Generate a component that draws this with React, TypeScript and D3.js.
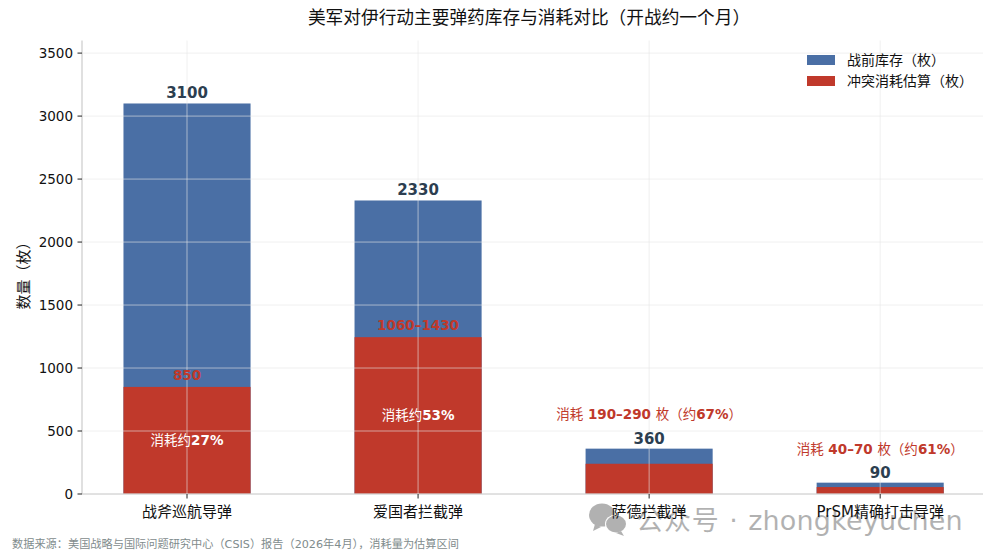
import * as d3 from 'd3';

const categories = ['战斧巡航导弹', '爱国者拦截弹', '萨德拦截弹', 'PrSM精确打击导弹'];
const stock = [3100, 2330, 360, 90];
const consumed = [850, 1245, 240, 55];
const rangeLabels = ['850', '1060–1430', '消耗 190–290 枚（约67%）', '消耗 40–70 枚（约61%）'];
const rangeLabelValues = [945, 1340, 630, 360];
const shareLabels = ['消耗约27%', '消耗约53%', '', ''];
const shareLabelValues = [425, 625, 0, 0];
const yTicks = [0, 500, 1000, 1500, 2000, 2500, 3000, 3500];
const legendLabels = ['战前库存（枚）', '冲突消耗估算（枚）'];

const W = 993;
const H = 559;
const FONT = '"DejaVu Sans", "Noto Sans CJK SC", sans-serif';
const BLUE = '#4a6fa5';
const RED = '#c0392b';
const DARK = '#2c3e50';
const GRID = '#e6e6e6';

const left = 82;
const right = 983;
const top = 40.5;
const bottom = 494;

// latin digits are bold in the labels, the CJK fallback stays regular
function runs(s: string) {
  return s.split(/([\u3000-\u9fff\uff00-\uffef]+)/).filter(Boolean).map((part, i) => (
    <tspan key={i} fontWeight={/[\u3000-\u9fff\uff00-\uffef]/.test(part) ? 'normal' : 'bold'}>{part}</tspan>
  ));
}

export default function App() {
  const x = d3.scaleLinear().domain([-0.4545, 3.445]).range([left, right]);
  const y = d3.scaleLinear().domain([0, 3600]).range([bottom, top]);
  const barW = x(0.55) - x(0);

  return (
    <svg
      width={W}
      height={H}
      viewBox={`0 0 ${W} ${H}`}
      style={{ position: 'absolute', left: 0, top: 0, background: '#fff' }}
      fontFamily={FONT}
    >
      <text x={529} y={24} textAnchor="middle" fontSize={17.7} fill="#111">
        美军对伊行动主要弹药库存与消耗对比（开战约一个月）
      </text>

      {/* bars */}
      {categories.map((c, i) => (
        <g key={c}>
          <rect x={x(i) - barW / 2} y={y(stock[i])} width={barW} height={bottom - y(stock[i])} fill={BLUE} />
          <rect x={x(i) - barW / 2} y={y(consumed[i])} width={barW} height={bottom - y(consumed[i])} fill={RED} />
        </g>
      ))}

      {/* grid sits over the bars */}
      <g stroke={GRID} strokeOpacity={0.6} strokeWidth={1}>
        {yTicks.map(t => (
          <line key={t} x1={left} x2={right} y1={y(t)} y2={y(t)} />
        ))}
        {categories.map((c, i) => (
          <line key={c} x1={x(i)} x2={x(i)} y1={top} y2={bottom} />
        ))}
      </g>

      {/* axes */}
      <line x1={left} x2={left} y1={top} y2={bottom} stroke="#cccccc" strokeWidth={1.2} />
      <line x1={left} x2={right} y1={bottom} y2={bottom} stroke="#cccccc" strokeWidth={1.2} />
      {yTicks.map(t => (
        <g key={t}>
          <line x1={left - 4.5} x2={left} y1={y(t)} y2={y(t)} stroke="#222" strokeWidth={1} />
          <text x={left - 9} y={y(t)} dy="0.36em" textAnchor="end" fontSize={13.5} fill="#111">{t}</text>
        </g>
      ))}
      {categories.map((c, i) => (
        <g key={c}>
          <line x1={x(i)} x2={x(i)} y1={bottom} y2={bottom + 4.5} stroke="#222" strokeWidth={1} />
          <text x={x(i)} y={517} textAnchor="middle" fontSize={15} fill="#111">{c}</text>
        </g>
      ))}
      <text
        transform="translate(29,272) rotate(-90)"
        textAnchor="middle"
        fontSize={15}
        fill="#111"
      >
        数量（枚）
      </text>

      {/* value labels */}
      {categories.map((c, i) => (
        <text key={c} x={x(i)} y={y(stock[i]) - 5} textAnchor="middle" fontSize={15} fontWeight="bold" fill={DARK}>
          {stock[i]}
        </text>
      ))}
      {categories.map((c, i) => (
        <text key={c} x={x(i)} y={y(rangeLabelValues[i])} textAnchor="middle" dy="0.36em" fontSize={13.5} fill={RED}>
          {runs(rangeLabels[i])}
        </text>
      ))}
      {shareLabels.map((s, i) =>
        s ? (
          <text key={s} x={x(i)} y={y(shareLabelValues[i])} textAnchor="middle" dy="0.36em" fontSize={13.5} fill="#fff">
            {runs(s)}
          </text>
        ) : null
      )}

      {/* legend */}
      {legendLabels.map((l, i) => (
        <g key={l}>
          <rect x={807} y={55 + i * 21} width={28} height={10} fill={i === 0 ? BLUE : RED} />
          <text x={847} y={65 + i * 21} fontSize={14} fill="#111">{l}</text>
        </g>
      ))}

      {/* source note */}
      <text x={12} y={548} fontSize={11.2} fill="#7f8c8d">
        数据来源：美国战略与国际问题研究中心（CSIS）报告（2026年4月），消耗量为估算区间
      </text>

      {/* watermark */}
      <g opacity={0.32} fill="#111">
        <ellipse cx={602} cy={515} rx={13} ry={11.5} />
        <path d="M595 524 l-2 7 l8 -4 z" />
        <ellipse cx={616} cy={524} rx={11} ry={9.5} fill="#fff" />
        <ellipse cx={616} cy={524} rx={10} ry={8.5} />
        <path d="M621 531 l3 5 l-8 -3 z" />
        <text x={636} y={530} fontSize={27}>
          <tspan letterSpacing={0.9}>公众号 · </tspan>
          <tspan letterSpacing={0.2}>zhongkeyuchen</tspan>
        </text>
      </g>
    </svg>
  );
}
